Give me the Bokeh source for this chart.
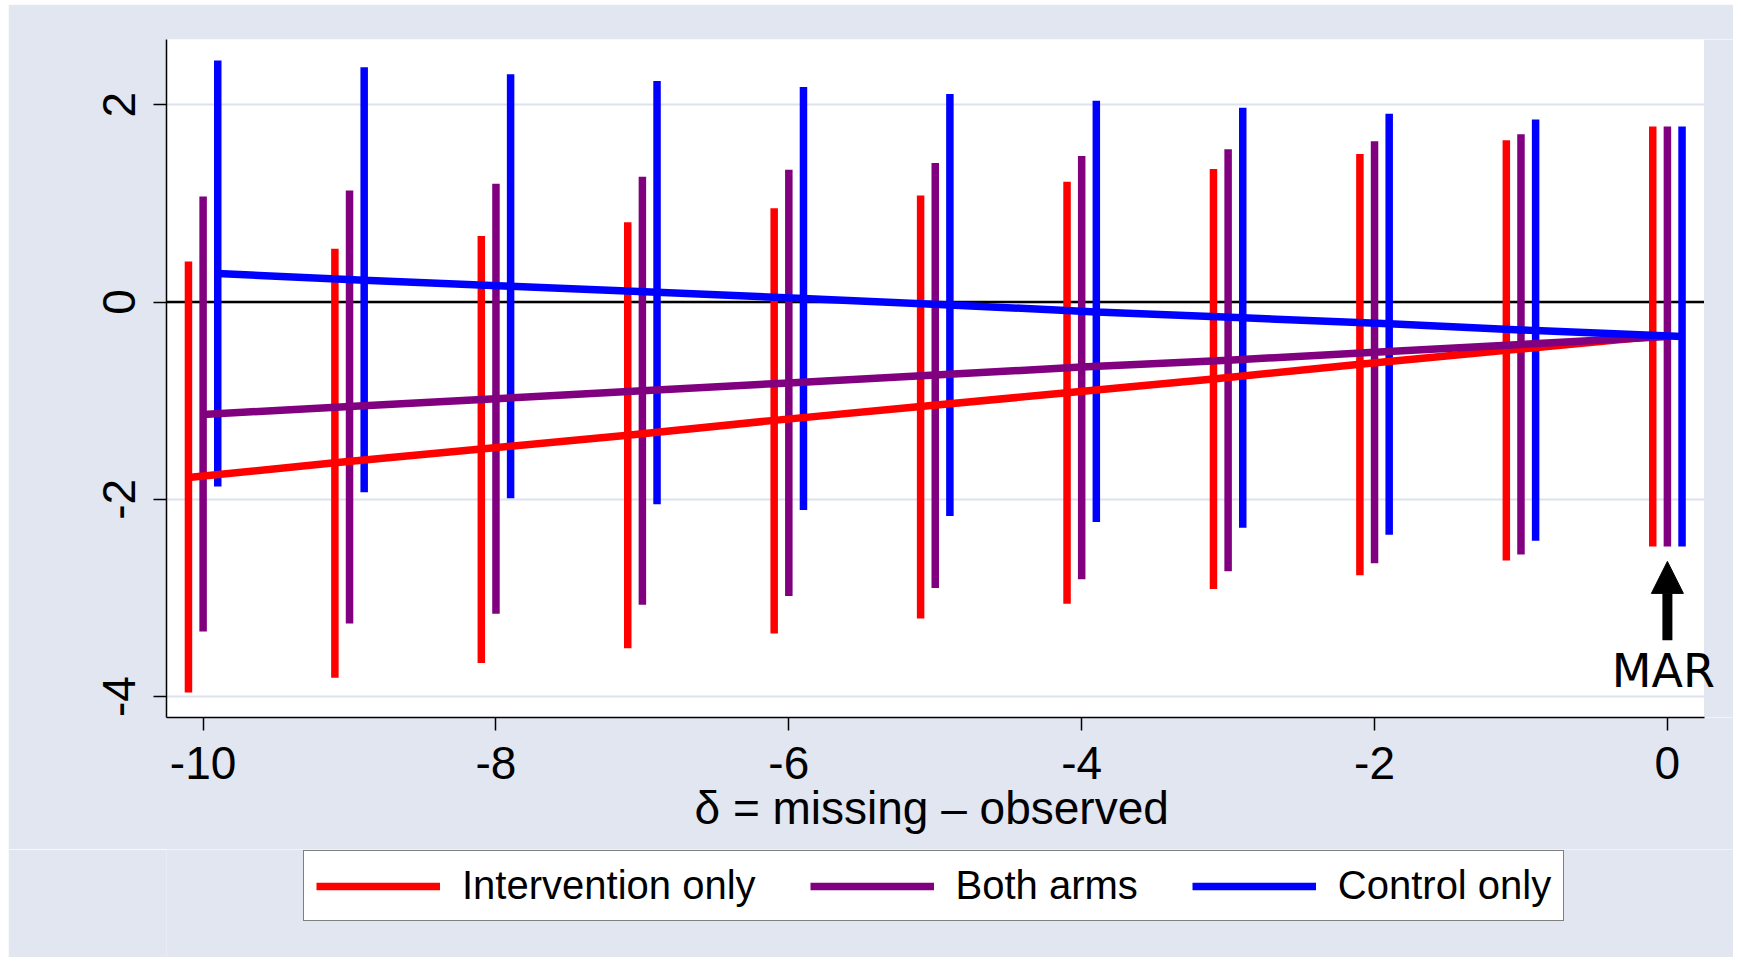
from bokeh.plotting import figure
from bokeh.models import (ColumnDataSource, Range1d, FixedTicker, Legend, LegendItem,
                          Label, Arrow, NormalHead, BoxAnnotation, Span, Spacer, Title)
from bokeh.layouts import column, row
from bokeh.transform import dodge
from bokeh.embed import file_html
from bokeh.resources import INLINE

# ---------------- data ----------------
delta = [-10, -9, -8, -7, -6, -5, -4, -3, -2, -1, 0]

interv_hi = [0.41, 0.54, 0.67, 0.81, 0.95, 1.08, 1.22, 1.35, 1.50, 1.64, 1.78]
interv_lo = [-3.96, -3.81, -3.66, -3.51, -3.36, -3.21, -3.06, -2.91, -2.77, -2.62, -2.48]
interv_est = [-1.78, -1.63, -1.49, -1.35, -1.20, -1.06, -0.92, -0.78, -0.63, -0.49, -0.35]

both_hi = [1.07, 1.13, 1.20, 1.27, 1.34, 1.41, 1.48, 1.55, 1.63, 1.70, 1.78]
both_lo = [-3.34, -3.26, -3.16, -3.07, -2.98, -2.90, -2.81, -2.73, -2.65, -2.56, -2.48]
both_est = [-1.14, -1.06, -0.98, -0.90, -0.82, -0.74, -0.66, -0.59, -0.51, -0.43, -0.35]

ctrl_hi = [2.45, 2.38, 2.31, 2.24, 2.18, 2.11, 2.04, 1.97, 1.91, 1.85, 1.78]
ctrl_lo = [-1.87, -1.93, -1.99, -2.05, -2.11, -2.17, -2.23, -2.29, -2.36, -2.42, -2.48]
ctrl_est = [0.29, 0.22, 0.16, 0.10, 0.035, -0.03, -0.10, -0.16, -0.22, -0.29, -0.35]

series_names = ["Intervention only", "Both arms", "Control only"]
series_colors = ["#FF0000", "#800080", "#0000FF"]
series_offsets = [-0.1, 0.0, 0.1]

x_ticks = [-10, -8, -6, -4, -2, 0]
x_tick_labels = ["-10", "-8", "-6", "-4", "-2", "0"]
y_ticks = [-4, -2, 0, 2]
y_tick_labels = ["-4", "-2", "0", "2"]

x_title = "\u03b4 = missing \u2013 observed"
mar_text = "MAR"
mar_delta = 0

# ---------------- figure ----------------
BG = "#E1E6F0"
GRID = "#DCE3EF"
FONT = "Liberation Sans"
X_LO, X_HI = -10.25, 0.25      # extent of the white plot region

p = figure(width=1725, height=845, output_backend="svg", toolbar_location=None,
           x_range=Range1d(X_LO, 0.4514), y_range=Range1d(-4.213, 2.662),
           min_border_left=158, min_border_right=0, min_border_top=35, min_border_bottom=132)
p.background_fill_color = "white"
p.border_fill_color = BG
p.outline_line_color = None

p.xgrid.visible = False
p.ygrid.ticker = FixedTicker(ticks=y_ticks)
p.ygrid.grid_line_color = GRID
p.ygrid.grid_line_width = 2

p.add_layout(Span(location=0, dimension="width", line_color="black", line_width=2.5,
                  level="underlay"))
# graph-region strip to the right of the plot region
p.add_layout(BoxAnnotation(left=X_HI, fill_color=BG, fill_alpha=1.0, line_color=None,
                           level="underlay"))

sources = [
    ColumnDataSource(dict(delta=delta, lo=interv_lo, hi=interv_hi, est=interv_est)),
    ColumnDataSource(dict(delta=delta, lo=both_lo, hi=both_hi, est=both_est)),
    ColumnDataSource(dict(delta=delta, lo=ctrl_lo, hi=ctrl_hi, est=ctrl_est)),
]

for src, col, off in zip(sources, series_colors, series_offsets):
    p.segment(x0=dodge("delta", off), y0="lo", x1=dodge("delta", off), y1="hi",
              source=src, line_color=col, line_width=7.5, line_cap="butt")

for src, col, off in zip(sources, series_colors, series_offsets):
    p.line(x=dodge("delta", off), y="est", source=src, line_color=col,
           line_width=7.5, line_cap="butt")

# axes
for ax in (p.xaxis[0], p.yaxis[0]):
    ax.axis_line_width = 1.5
    ax.axis_line_color = "black"
    ax.major_tick_line_width = 1.5
    ax.major_tick_line_color = "black"
    ax.major_tick_out = 13
    ax.major_tick_in = 0
    ax.minor_tick_line_color = None
    ax.major_label_text_font = FONT
    ax.major_label_text_font_size = "46px"
    ax.major_label_text_color = "black"

p.xaxis.bounds = (X_LO, X_HI)
p.xaxis.ticker = FixedTicker(ticks=x_ticks)
p.xaxis.major_label_overrides = {t: l for t, l in zip(x_ticks, x_tick_labels)}
p.xaxis.major_label_standoff = 16

# x-axis title, centred under the white plot region (not the whole frame)
p.add_layout(Title(text=x_title, align="left", offset=528, vertical_align="top",
                   standoff=0, text_font=FONT, text_font_size="46px",
                   text_font_style="normal", text_color="black"), "below")

p.yaxis.ticker = FixedTicker(ticks=y_ticks)
p.yaxis.major_label_overrides = {t: l for t, l in zip(y_ticks, y_tick_labels)}
p.yaxis.major_label_orientation = "vertical"
p.yaxis.major_label_standoff = 18

# MAR annotation
p.add_layout(Arrow(end=NormalHead(size=32, fill_color="black", line_color="black", line_width=1),
                   x_start=mar_delta, y_start=-3.43, x_end=mar_delta, y_end=-2.63,
                   line_color="black", line_width=10))
p.add_layout(Label(x=mar_delta, y=-3.74, x_offset=-4, text=mar_text, text_align="center",
                   text_baseline="alphabetic", text_font="DejaVu Sans",
                   text_font_size="46px", text_color="black"))

# ---------------- legend strip ----------------
# the key lines reuse the series data; this strip's ranges keep them out of view
p2 = figure(width=1725, height=108, output_backend="svg", toolbar_location=None,
            x_axis_type=None, y_axis_type=None,
            x_range=Range1d(100, 101), y_range=Range1d(100, 101),
            min_border_left=0, min_border_right=0, min_border_top=0, min_border_bottom=0)
p2.background_fill_color = BG
p2.border_fill_color = BG
p2.outline_line_color = None
p2.grid.visible = False

key_renderers = [p2.line(x="delta", y="est", source=src, line_color=col, line_width=7.5,
                         line_cap="butt")
                 for src, col in zip(sources, series_colors)]

legend = Legend(items=[LegendItem(label=n, renderers=[r]) for n, r in zip(series_names, key_renderers)],
                orientation="horizontal", location=(137, 36),
                glyph_width=124, glyph_height=44, label_standoff=22, spacing=54,
                padding=12, margin=0,
                label_text_font=FONT, label_text_font_size="40px", label_text_color="black",
                border_line_color="black", border_line_width=1.5,
                background_fill_color="white", background_fill_alpha=1.0)
p2.add_layout(legend)

layout = column(Spacer(height=4), row(Spacer(width=8), column(p, p2)))

open("out.html", "w").write(file_html(layout, INLINE))
